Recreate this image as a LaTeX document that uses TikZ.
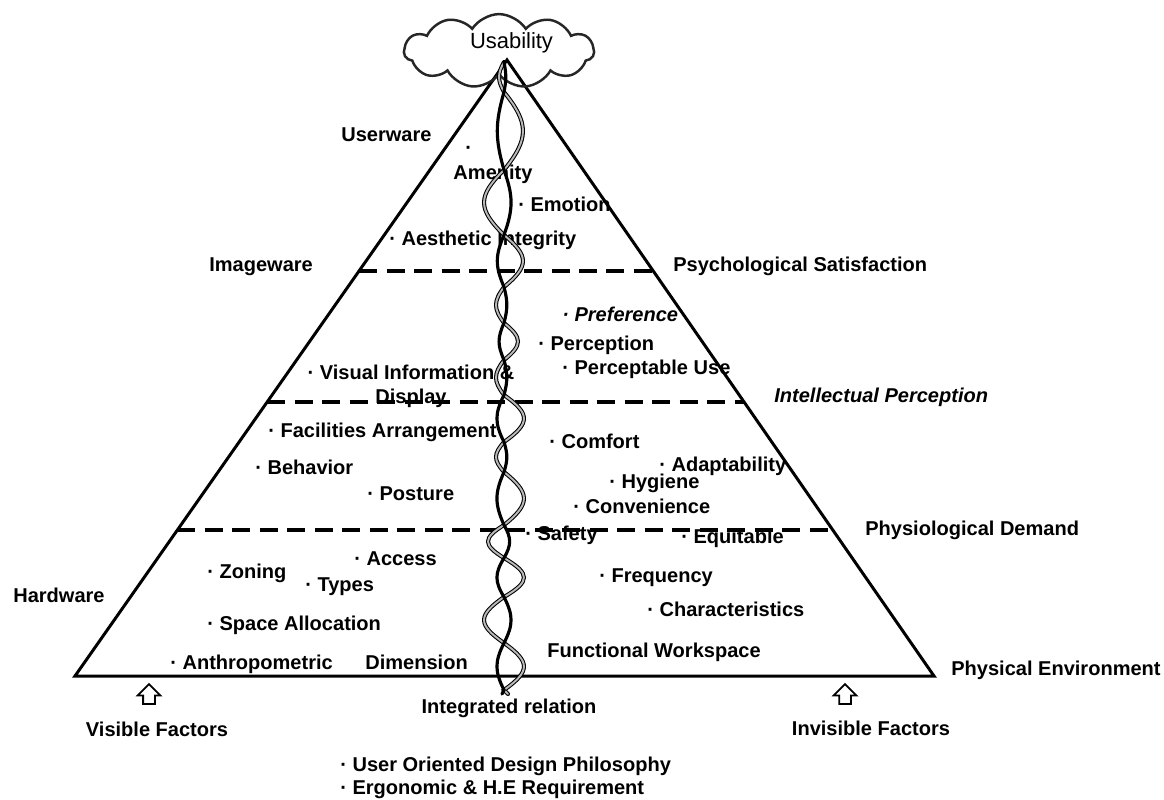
\documentclass[tikz,border=0pt]{standalone}
\usepackage{fontspec}
\setmainfont{Liberation Sans}
\usetikzlibrary{calc,shapes.symbols,shapes.arrows}

\begin{document}
\begin{tikzpicture}[x=0.02cm, y=-0.02cm]
    % styles
    \tikzset{
        lbl/.style={font=\fontsize{11.4}{13.5}\selectfont\bfseries, inner sep=0pt, anchor=mid west},
        midlbl/.style={lbl, anchor=center},
        slant/.style={font=\fontsize{11.4}{13.5}\selectfont\bfseries\itshape},
        dashrow/.style={line width=2pt, dash pattern=on 0.36cm off 0.19cm},
        sideline/.style={line width=1.7pt, line join=miter},
        upbox/.style={single arrow, draw, line width=1pt, shape border rotate=90,
            minimum height=0.4cm, single arrow head extend=0.11cm, inner sep=0.1cm},
        strandA/.style={line width=1.8pt, line cap=round},
        strandB/.style={line width=0.6pt, double=gray!55, double distance=1.1pt, line cap=round},
    }

    % page size
    \useasboundingbox (0,0) rectangle (1164,799);

    % pyramid
    \coordinate (apex) at (507,60);
    \coordinate (bl) at (75,676);
    \coordinate (br) at (934,676);
    \draw[sideline] (apex) -- (bl) -- (br) -- cycle;

    % dashed levels
    \foreach \t in {0.3425,0.5552,0.763} {
        \draw[dashrow] ($(apex)!\t!(bl)$) -- ($(apex)!\t!(br)$);
    }

    % cloud on top
    \node[cloud, draw=black!85, line width=1.4pt, cloud puffs=11, cloud puff arc=115, cloud ignores aspect,
        inner sep=0pt, minimum width=3.8cm, minimum height=1.3cm, font=\fontsize{12.5}{14}\selectfont]
        (usab) at (499,51) {\hspace{0.5cm}\raisebox{0pt}[\height][12pt]{Usability}};

    % left side names
    \node[lbl] (userware) at (341,137) {Userware};
    \node[lbl] (imageware) at (209,267) {Imageware};
    \node[lbl] (hardware) at (13,598) {Hardware};

    % right side names
    \node[lbl] (psych) at (673,267) {Psychological Satisfaction};
    \node[lbl, slant] (intel) at (774,398) {Intellectual Perception};
    \node[lbl] (physio) at (865,531) {Physiological Demand};
    \node[lbl] (physenv) at (951,671) {Physical Environment};

    % userware items
    \node[lbl] (amdot) at (465,150) {·};
    \node[midlbl] (amenity) at (493,174) {Amenity};
    \node[lbl] (emotion) at (518,207) {· Emotion};
    \node[lbl] (aesth) at (389,241) {· Aesthetic Integrity};

    % imageware items
    \node[lbl, slant] (pref) at (562,317) {· Preference};
    \node[lbl] (percep) at (538,346) {· Perception};
    \node[lbl] (percuse) at (562,370) {· Perceptable Use};
    \node[midlbl, align=center] (visual) at (411,386) {· Visual Information \&\\Display};

    % middle items
    \node[lbl] (facil) at (268,433) {· Facilities Arrangement};
    \node[lbl] (behav) at (255,470) {· Behavior};
    \node[lbl] (posture) at (367,496) {· Posture};
    \node[lbl] (comfort) at (549,444) {· Comfort};
    \node[lbl] (adapt) at (659,467) {· Adaptability};
    \node[lbl] (hygiene) at (609,484) {· Hygiene};
    \node[lbl] (conv) at (573,509) {· Convenience};

    % hardware items
    \node[lbl] (safety) at (525,536) {· Safety};
    \node[lbl] (equit) at (681,539) {· Equitable};
    \node[lbl] (access) at (354,561) {· Access};
    \node[lbl] (zoning) at (207,574) {· Zoning};
    \node[lbl] (types) at (305,587) {· Types};
    \node[lbl] (spacealloc) at (207,626) {· Space Allocation};
    \node[lbl] (anthro) at (170,665) {· Anthropometric};
    \node[lbl] (dimen) at (365,665) {Dimension};
    \node[lbl] (freq) at (599,578) {· Frequency};
    \node[lbl] (charac) at (647,612) {· Characteristics};
    \node[lbl] (funcws) at (547,653) {Functional Workspace};

    % bottom
    \node[upbox] (visarrow) at (149,697) {};
    \node[upbox] (invarrow) at (845,697) {};
    \node[midlbl] (visible) at (157,729) {Visible Factors};
    \node[midlbl] (invisible) at (871,728) {Invisible Factors};
    \node[midlbl] (integ) at (509,708) {Integrated relation};
    \node[lbl] (userdes) at (340,767) {· User Oriented Design Philosophy};
    \node[lbl] (ergo) at (340,790) {· Ergonomic \& H.E Requirement};

    % twisted strands (crossing / next crossing / bulge)
    \draw[strandB] (504,62) \foreach \ya/\yb/\amp in {62/92/-5, 92/170/19, 170/235/-20, 235/287/19,
        287/323/-8, 323/360/14, 360/395/-8, 395/442/20, 442/472/-8, 472/525/20, 525/558/-16,
        558/597/20, 597/643/-20, 643/690/20} {
        .. controls ({504+1.33*\amp},{\ya+0.4*(\yb-\ya)}) and ({504+1.33*\amp},{\yb-0.4*(\yb-\ya)}) .. (504,\yb)
    } -- (508,694);
    \draw[strandA] (504,62) \foreach \ya/\yb/\amp in {62/92/-5, 92/170/19, 170/235/-20, 235/287/19,
        287/323/-8, 323/360/14, 360/395/-8, 395/442/20, 442/472/-8, 472/525/20, 525/558/-16,
        558/597/20, 597/643/-20, 643/690/20} {
        .. controls ({504-0.47*\amp},{\ya+0.4*(\yb-\ya)}) and ({504-0.47*\amp},{\yb-0.4*(\yb-\ya)}) .. (504,\yb)
    } -- (502,694);
\end{tikzpicture}
\end{document}
